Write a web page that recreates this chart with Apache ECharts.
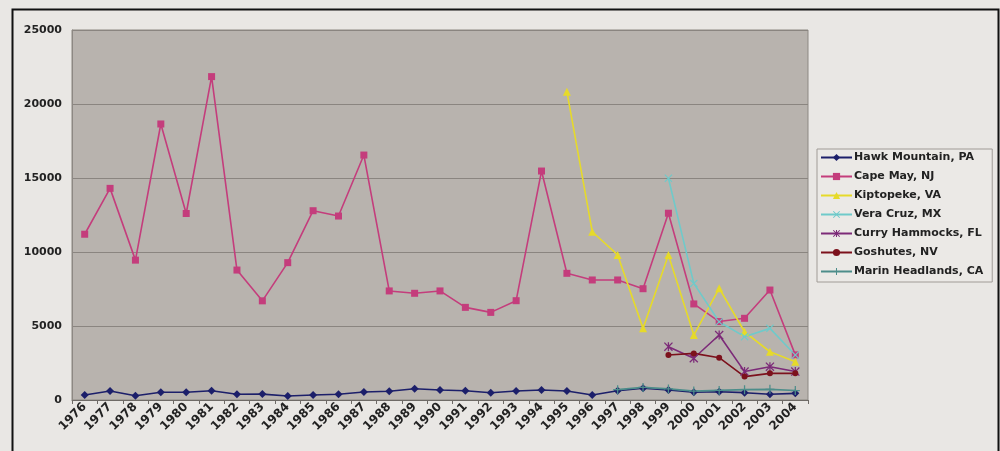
<!DOCTYPE html>
<html>
<head>
<meta charset="utf-8">
<script src="https://cdn.jsdelivr.net/npm/echarts@6/dist/echarts.min.js"></script>
<style>
  html, body { margin: 0; padding: 0; background: #e9e7e4; }
  #chart { width: 1000px; height: 451px; }
</style>
</head>
<body>
<div id="chart"></div>
<script>
// Annual hawk-watch counts by site, 1976-2004
const years = ['1976','1977','1978','1979','1980','1981','1982','1983','1984','1985','1986','1987','1988','1989','1990','1991','1992','1993','1994','1995','1996','1997','1998','1999','2000','2001','2002','2003','2004'];

const hawkMountain = [340, 610, 290, 520, 520, 630, 385, 400, 270, 340, 385, 540, 590, 765, 675, 630, 495, 610, 675, 610, 340, 630, 790, 675, 520, 560, 495, 385, 450];
const capeMay = [11200, 14300, 9450, 18650, 12600, 21850, 8780, 6700, 9280, 12790, 12430, 16550, 7370, 7210, 7370, 6260, 5920, 6710, 15470, 8560, 8110, 8110, 7520, 12620, 6490, 5300, 5520, 7430, 3050];
const kiptopeke = [null, null, null, null, null, null, null, null, null, null, null, null, null, null, null, null, null, null, null, 20830, 11370, 9800, 4840, 9800, 4390, 7550, 4610, 3260, 2590];
const veraCruz = [null, null, null, null, null, null, null, null, null, null, null, null, null, null, null, null, null, null, null, null, null, null, null, 14980, 7880, 5290, 4280, 4840, 3040];
const curryHammocks = [null, null, null, null, null, null, null, null, null, null, null, null, null, null, null, null, null, null, null, null, null, null, null, 3600, 2820, 4390, 1920, 2250, 1920];
const goshutes = [null, null, null, null, null, null, null, null, null, null, null, null, null, null, null, null, null, null, null, null, null, null, null, 3040, 3150, 2860, 1580, 1800, 1800];
const marinHeadlands = [null, null, null, null, null, null, null, null, null, null, null, null, null, null, null, null, null, null, null, null, null, 700, 850, 750, 600, 650, 700, 720, 640];

const yTicks = [0, 5000, 10000, 15000, 20000, 25000];

const xMark = 'path://M0,1L1,0L5,4L9,0L10,1L6,5L10,9L9,10L5,6L1,10L0,9L4,5Z';
const starMark = 'path://M0,1L1,0L5,4L9,0L10,1L6,5L10,9L9,10L5,6L1,10L0,9L4,5Z M4.3,0H5.7V10H4.3Z';
const plusMark = 'path://M4.3,0H5.7V4.3H10V5.7H5.7V10H4.3V5.7H0V4.3H4.3Z';

function site(name, data, color, symbol, size) {
  return {
    name: name,
    type: 'line',
    data: data,
    symbol: symbol,
    symbolSize: size,
    showAllSymbol: true,
    connectNulls: false,
    lineStyle: { color: color, width: 1.6 },
    itemStyle: { color: color },
    emphasis: { disabled: true },
    animation: false
  };
}

const chart = echarts.init(document.getElementById('chart'));
chart.setOption({
  backgroundColor: '#e9e7e4',
  textStyle: { fontFamily: 'DejaVu Sans' },
  graphic: [
    {
      type: 'rect',
      left: 10, top: 7,
      shape: { width: 986, height: 460 },
      style: { fill: 'none', stroke: '#111', lineWidth: 2 },
      silent: true, z: -1
    }
  ],
  grid: {
    left: 72, right: 192, top: 30, bottom: 51,
    show: true,
    backgroundColor: '#b8b3ae',
    borderColor: '#8d8883',
    borderWidth: 1
  },
  legend: {
    orient: 'vertical',
    left: 817, top: 149,
    padding: [3, 9, 5, 3],
    itemWidth: 31, itemHeight: 9, itemGap: 8,
    backgroundColor: '#ebe9e6',
    borderColor: '#a09b96', borderWidth: 1,
    textStyle: { fontFamily: 'DejaVu Sans', fontSize: 11, fontWeight: 'bold', color: '#222', padding: [0, 0, 0, -3] },
    data: ['Hawk Mountain, PA', 'Cape May, NJ', 'Kiptopeke, VA', 'Vera Cruz, MX', 'Curry Hammocks, FL', 'Goshutes, NV', 'Marin Headlands, CA']
  },
  xAxis: {
    type: 'category',
    data: years,
    boundaryGap: true,
    axisLine: { show: true, lineStyle: { color: '#6e6a66', width: 1 } },
    axisTick: { show: true, length: 4, lineStyle: { color: '#6e6a66' } },
    axisLabel: { rotate: 45, fontSize: 12, fontWeight: 'bold', color: '#222', margin: 5, interval: 0, fontFamily: 'DejaVu Sans' }
  },
  yAxis: {
    type: 'value',
    min: yTicks[0],
    max: yTicks[yTicks.length - 1],
    interval: 5000,
    axisLine: { show: true, lineStyle: { color: '#8d8883' } },
    axisTick: { show: false },
    splitLine: { show: true, lineStyle: { color: '#8a8580', width: 1 } },
    axisLabel: { fontSize: 11, fontWeight: 'bold', color: '#222', margin: 10, fontFamily: 'DejaVu Sans', formatter: function (v) { return String(v); } }
  },
  series: [
    site('Hawk Mountain, PA', hawkMountain, '#1c1f6a', 'diamond', 8),
    site('Cape May, NJ', capeMay, '#c43d7c', 'rect', 7),
    site('Kiptopeke, VA', kiptopeke, '#e6da2a', 'triangle', 8),
    site('Vera Cruz, MX', veraCruz, '#6fcaca', xMark, 8),
    site('Curry Hammocks, FL', curryHammocks, '#7c2a78', starMark, 9),
    site('Goshutes, NV', goshutes, '#7c111c', 'circle', 6),
    site('Marin Headlands, CA', marinHeadlands, '#4d8d8a', plusMark, 9)
  ]
});
</script>
</body>
</html>
